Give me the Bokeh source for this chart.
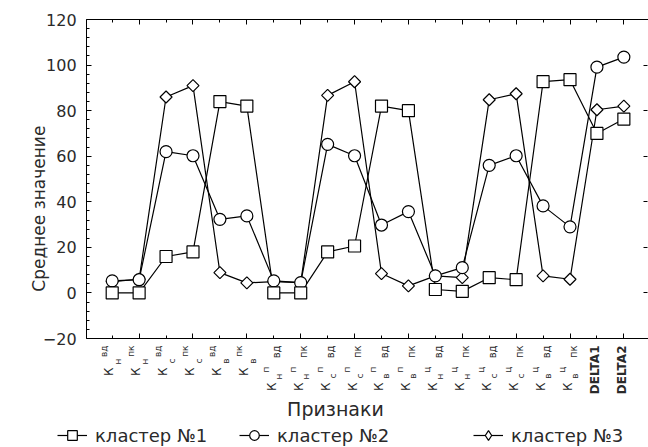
import math
from bokeh.plotting import figure
from bokeh.models import Label, Legend, LegendItem, FixedTicker, LinearAxis
from bokeh.embed import file_html
from bokeh.resources import INLINE

# ---- data ----
label_sub = ["н", "н", "с", "с", "в", "в"] * 3 + ["", ""]
label_mid = [""] * 6 + ["п"] * 6 + ["ц"] * 6 + ["", ""]
label_sup = ["вд", "пк"] * 9 + ["", ""]
categories = ["К" + s + m + u for s, m, u in zip(label_sub, label_mid, label_sup)]
categories[18] = "DELTA1"
categories[19] = "DELTA2"

cluster1 = [0, 0, 16, 18, 84, 82, 0, 0, 18, 20.6, 82, 80, 1.5, 0.7, 6.7, 5.8, 92.7, 93.6, 70, 76.3]
cluster2 = [5.3, 5.8, 62, 60.2, 32.3, 33.8, 5.3, 4.5, 65.2, 60.2, 29.8, 35.7, 7.5, 11.1, 56, 60.2, 38.2, 29, 99.1, 103.5]
cluster3 = [5, 6, 86, 91, 8.9, 4.4, 5, 4.5, 86.7, 92.7, 8.5, 3.1, 7.5, 6.7, 84.8, 87.4, 7.5, 6, 80.4, 82]
series_names = ["кластер №1", "кластер №2", "кластер №3"]

y_ticks = [-20, 0, 20, 40, 60, 80, 100, 120]
y_lo, y_hi = -20, 120

xs = list(range(len(categories)))

FONT = "DejaVu Sans"
TXT = "#2a2a2a"

X_LEFT = -0.95
X_RIGHT = 19.915

p = figure(width=648, height=447, x_range=(-4.148, 19.915), y_range=(-67.83, 128.34),
           output_backend="svg", toolbar_location=None)
p.min_border_left = 0
p.min_border_right = 0
p.min_border_top = 0
p.min_border_bottom = 0
p.outline_line_color = None
p.xgrid.visible = False
p.ygrid.visible = False
p.background_fill_color = "white"

# y axis
ya = p.yaxis[0]
ya.fixed_location = X_LEFT
ya.bounds = (y_lo, y_hi)
ya.ticker = FixedTicker(ticks=y_ticks, minor_ticks=list(range(y_lo, y_hi + 1, 4)))
ya.major_tick_in = 5
ya.major_tick_out = 0
ya.minor_tick_in = 3
ya.minor_tick_out = 0
ya.major_label_standoff = 10
ya.major_label_text_font = FONT
ya.major_label_text_font_size = "16px"
ya.major_label_text_color = TXT
ya.axis_line_color = "black"
ya.major_tick_line_color = "black"
ya.minor_tick_line_color = "black"

odd = [i for i in xs if i % 2 == 1]
even = [i for i in xs if i % 2 == 0]

def style_x(ax, loc):
    ax.fixed_location = loc
    ax.bounds = (X_LEFT, X_RIGHT)
    ax.ticker = FixedTicker(ticks=odd, minor_ticks=even)
    ax.major_tick_in = 5
    ax.major_tick_out = 0
    ax.minor_tick_in = 3
    ax.minor_tick_out = 0
    ax.major_label_overrides = {i: "" for i in odd}
    ax.axis_line_color = "black"
    ax.major_tick_line_color = "black"
    ax.minor_tick_line_color = "black"

style_x(p.xaxis[0], y_lo)
top = LinearAxis()
style_x(top, y_hi)
p.add_layout(top, "above")

right = LinearAxis(fixed_location=X_RIGHT - 0.03, bounds=(y_lo, y_hi),
                   ticker=FixedTicker(ticks=y_ticks, minor_ticks=[]),
                   major_tick_in=4, major_tick_out=0, minor_tick_in=0, minor_tick_out=0,
                   axis_line_color=None, major_label_overrides={t: "" for t in y_ticks})
p.add_layout(right, "right")

# lines and markers
lw = 1.2
l1 = p.line(xs, cluster1, line_color="black", line_width=lw)
l2 = p.line(xs, cluster2, line_color="black", line_width=lw)
l3 = p.line(xs, cluster3, line_color="black", line_width=lw)
m3 = p.scatter(xs, cluster3, marker="square", angle=math.pi / 4, size=8.5,
               fill_color="white", line_color="black", line_width=lw)
m2 = p.scatter(xs, cluster2, marker="circle", size=12,
               fill_color="white", line_color="black", line_width=lw)
m1 = p.scatter(xs, cluster1, marker="square", size=12,
               fill_color="white", line_color="black", line_width=lw)
# legend swatch for the diamond series: zero-size in the plot, legend sizes it itself
m3_key = p.scatter(xs, cluster3, marker="diamond", size=0,
                   fill_color="white", line_color="black", line_width=lw)

# x tick labels (rotated, with sub/superscripts)
def add_part(i, text, dx, dy, size, bold=False):
    p.add_layout(Label(x=i, y=y_lo, x_offset=dx, y_offset=-dy, text=text,
                       angle=math.pi / 2, text_align="right", text_baseline="middle",
                       text_font=FONT, text_font_size=f"{size}px", text_color=TXT,
                       text_font_style="bold" if bold else "normal"))

for i in xs:
    if categories[i].startswith("DELTA"):
        add_part(i, categories[i], -2, 7, 12, bold=True)
    elif label_mid[i] == "":
        add_part(i, "К", -3, 29, 12)
        add_part(i, label_sub[i], 6, 20, 9)
        add_part(i, label_sup[i], -8, 7, 9)
    else:
        add_part(i, "К", -2, 44, 12)
        add_part(i, label_sub[i], 5, 35, 9)
        add_part(i, label_mid[i], -8, 28, 9)
        add_part(i, label_sup[i], 3, 7, 10)

# axis titles
p.add_layout(Label(x=8.29, y=y_lo, y_offset=-70, text="Признаки", text_align="center",
                   text_baseline="middle", text_font=FONT, text_font_size="19px", text_color=TXT))
p.add_layout(Label(x=-2.70, y=37.0, text="Среднее значение", angle=math.pi / 2,
                   text_align="center", text_baseline="middle", text_font=FONT,
                   text_font_size="17px", text_color=TXT))

# legends
def add_legend(label, rends, xloc, yloc, gh):
    lg = Legend(items=[LegendItem(label=label, renderers=rends)], location=(xloc, yloc),
                orientation="horizontal", padding=0, margin=0, spacing=0,
                border_line_color=None, background_fill_alpha=0,
                glyph_width=30, glyph_height=gh, label_standoff=8,
                label_text_font=FONT, label_text_font_size="18px", label_text_color=TXT)
    p.add_layout(lg)

add_legend(series_names[0], [l1, m1], 57, 0, 24)
add_legend(series_names[1], [l2, m2], 239, 0, 24)
add_legend(series_names[2], [l3, m3_key], 473, 0, 24)

open("out.html", "w").write(file_html(p, INLINE))
